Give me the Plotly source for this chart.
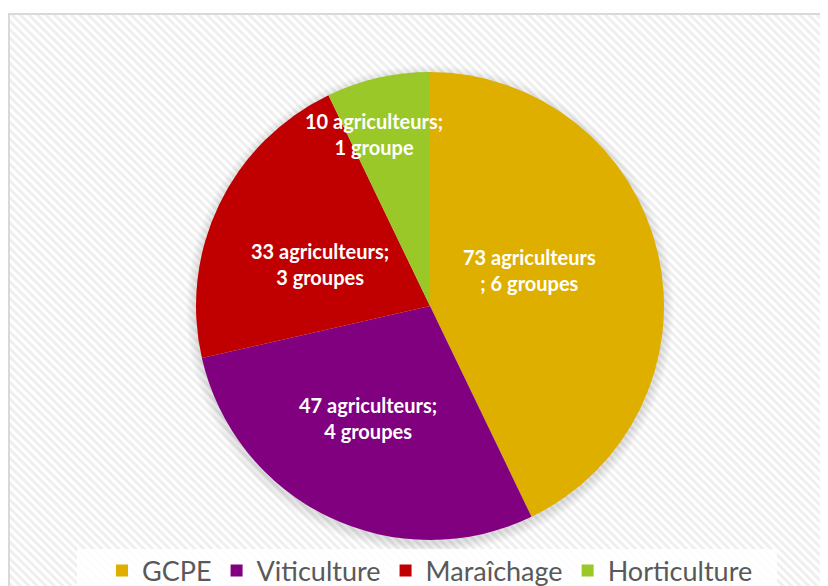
import math
import base64
import plotly.graph_objects as go

categories = ["GCPE", "Viticulture", "Maraîchage", "Horticulture"]
agriculteurs = [73, 47, 33, 10]
groupes = [6, 4, 3, 1]
label_texts = [
    "73 agriculteurs<br>; 6 groupes",
    "47 agriculteurs;<br>4 groupes",
    "33 agriculteurs;<br>3 groupes",
    "10 agriculteurs;<br>1 groupe",
]
colors = ["#DFAF00", "#800080", "#C00000", "#99C828"]

W, H = 828, 586
OFF = 8  # page body margin offset
CX, CY, R = 430 - OFF, 306 - OFF, 234


def px(x):
    return x / W


def py(y):
    return (H - y) / H


fig = go.Figure()
fig.add_trace(go.Pie(
    labels=categories,
    values=groupes,
    customdata=agriculteurs,
    marker=dict(colors=colors, line=dict(width=0)),
    sort=False,
    direction="clockwise",
    rotation=0,
    textinfo="none",
    hovertemplate="%{label}: %{customdata} agriculteurs; %{value} groupes<extra></extra>",
    domain=dict(x=[px(CX - R), px(CX + R)], y=[py(CY + R), py(CY - R)]),
))

# background hatch pattern (SVG data URI)
svg = (
    "<svg xmlns='http://www.w3.org/2000/svg' width='{w}' height='{h}'>"
    "<defs><pattern id='p' width='6' height='6' patternUnits='userSpaceOnUse' "
    "patternTransform='rotate(-45)'>"
    "<rect width='6' height='6' fill='#ffffff'/>"
    "<rect width='3' height='6' fill='#efefef'/>"
    "</pattern></defs>"
    "<rect width='{w}' height='{h}' fill='url(#p)'/></svg>"
).format(w=W, h=H)
src = "data:image/svg+xml;base64," + base64.b64encode(svg.encode()).decode()

bx, by = 9 - OFF, 14 - OFF
fig.add_layout_image(dict(
    source=src, xref="paper", yref="paper",
    x=px(bx), y=py(by), sizex=(W - bx) / W, sizey=(H - by) / H,
    xanchor="left", yanchor="top", sizing="stretch", layer="below",
))

shapes = []
# chart border
shapes.append(dict(type="rect", xref="paper", yref="paper",
                   x0=px(bx), x1=px(W + 10), y0=py(H + 10), y1=py(by),
                   line=dict(color="#D9D9D9", width=2), fillcolor="rgba(0,0,0,0)", layer="below"))
# soft pie shadow
for i in range(10):
    rr = R + 10 - i
    shapes.append(dict(type="circle", xref="paper", yref="paper",
                       x0=px(CX - rr), x1=px(CX + rr),
                       y0=py(CY + 3 + rr), y1=py(CY + 3 - rr),
                       line=dict(width=0), fillcolor="rgba(0,0,0,0.012)", layer="below"))
# legend box
shapes.append(dict(type="rect", xref="paper", yref="paper",
                   x0=px(77 - OFF), x1=px(777 - OFF), y0=py(H + 5), y1=py(549 - OFF),
                   line=dict(width=0), fillcolor="rgba(255,255,255,0.85)", layer="below"))

# data labels placed from the slice angles
label_radius = [106, 128, 118, 181]
angle_nudge = [-7.1, 3.3, -4.7, -5.1]
total = sum(groupes)
annotations = []
cum = 0
for i, v in enumerate(groupes):
    mid = (cum + v / 2) / total * 360
    cum += v
    th = math.radians(mid + angle_nudge[i])
    x = CX + label_radius[i] * math.sin(th)
    y = CY - label_radius[i] * math.cos(th)
    annotations.append(dict(
        x=px(x), y=py(y), xref="paper", yref="paper", text=label_texts[i],
        showarrow=False, font=dict(family="Lato", size=20, color="white", weight="bold"),
        align="center", xanchor="center", yanchor="middle",
    ))

fig.update_layout(
    width=W, height=H,
    margin=dict(l=0, r=0, t=0, b=0, autoexpand=False),
    paper_bgcolor="white",
    shapes=shapes,
    annotations=annotations,
    showlegend=True,
    legend=dict(orientation="h", x=px(422), xanchor="center", y=py(571 - OFF), yanchor="middle",
                font=dict(family="Lato", size=27, color="#595959"),
                bgcolor="rgba(0,0,0,0)", itemclick=False, tracegroupgap=0),
)

fig.write_html("out.html")
